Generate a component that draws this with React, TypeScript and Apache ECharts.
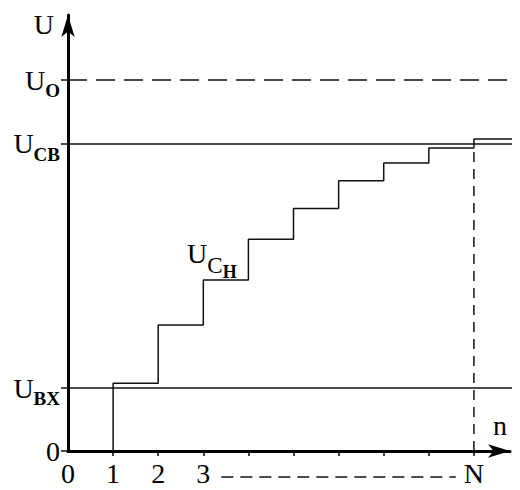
import React, { useEffect, useRef } from "react";
import * as echarts from "echarts";

// ---- data ----
const xTickValues = [1, 2, 3, 4, 5, 6, 7, 8, 9];
const xLabelValues = [0, 1, 2, 3, 9];
const xLabelTexts: Record<number, string> = { 0: "0", 1: "1", 2: "2", 3: "3", 9: "N" };
const stepStarts = [1, 2, 3, 4, 5, 6, 7, 8, 9];
const stepLevels = [0.221, 0.41, 0.557, 0.69, 0.79, 0.88, 0.938, 0.987, 1.016];
const stepEnd = 9.95;
const levelNames = ["0", "BX", "CB", "O"];
const levelValues = [0, 0.205, 1.0, 1.208];
const levelLineEnds = [0, 9.91, 9.98, 9.98];
const nIndex = 9;
const xMax = 9.8;
const yMax = 1.42;
const labelUCH = [3.19, 0.642];
const bottomDash = [3.4, 8.6];

const FONT = "'Liberation Serif', 'DejaVu Serif', serif";

export default function App() {
  const ref = useRef<HTMLDivElement>(null);
  useEffect(() => {
    const el = ref.current!;
    const chart = echarts.init(el, undefined, { renderer: "svg" });

    const stairs: number[][] = [[stepStarts[0], 0]];
    stepStarts.forEach((x, i) => {
      const next = i + 1 < stepStarts.length ? stepStarts[i + 1] : stepEnd;
      stairs.push([x, stepLevels[i]]);
      stairs.push([next, stepLevels[i]]);
    });

    const lineSeries = (data: number[][], dash?: number[]) => ({
      type: "line",
      data,
      symbol: "none",
      clip: false,
      silent: true,
      lineStyle: { color: "#111", width: 1.5, type: dash ? dash : "solid" },
    });

    const option: any = {
      animation: false,
      backgroundColor: "#fff",
      grid: { left: 68, right: 10, top: 15, bottom: 39 },
      xAxis: {
        type: "value",
        min: 0,
        max: xMax,
        name: "n",
        nameLocation: "end",
        nameGap: -10,
        nameTextStyle: {
          fontFamily: FONT,
          fontSize: 28,
          color: "#000",
          align: "center",
          verticalAlign: "bottom",
          padding: [0, 0, 12, 0],
        },
        axisLine: {
          lineStyle: { color: "#000", width: 3 },
          symbol: ["none", "arrow"],
          symbolSize: [10, 22],
        },
        axisTick: { show: true, customValues: xTickValues, length: 5, lineStyle: { color: "#000", width: 1.5 } },
        axisLabel: {
          customValues: xLabelValues,
          formatter: (v: number) => xLabelTexts[Math.round(v)] ?? "",
          fontFamily: FONT,
          fontSize: 28,
          color: "#000",
          margin: 8,
        },
        splitLine: { show: false },
      },
      yAxis: {
        type: "value",
        min: 0,
        max: yMax,
        name: "U",
        nameLocation: "end",
        nameGap: -9,
        nameTextStyle: {
          fontFamily: FONT,
          fontSize: 28,
          color: "#000",
          align: "right",
          verticalAlign: "middle",
          padding: [0, 14, 0, 0],
        },
        axisLine: {
          show: true,
          lineStyle: { color: "#000", width: 3 },
          symbol: ["none", "arrow"],
          symbolSize: [10, 22],
        },
        axisTick: { show: true, customValues: levelValues, length: 7, lineStyle: { color: "#111", width: 1.5 } },
        axisLabel: {
          customValues: levelValues,
          margin: 8,
          formatter: (v: number) => {
            const i = levelValues.findIndex((l) => Math.abs(l - v) < 1e-6);
            if (i < 0) return "";
            const nm = levelNames[i];
            return nm === "0" ? "{u|0}" : `{u|U}{s|${nm}}`;
          },
          rich: {
            u: { fontFamily: FONT, fontSize: 28, lineHeight: 28, color: "#000", verticalAlign: "top" },
            s: {
              fontFamily: FONT,
              fontSize: 19,
              fontWeight: "bold",
              lineHeight: 19,
              color: "#000",
              verticalAlign: "top",
              padding: [15, 0, 0, 0],
            },
          },
        },
        splitLine: { show: false },
      },
      series: [
        {
          ...lineSeries(stairs),
          markPoint: {
            symbol: "circle",
            symbolSize: 1,
            itemStyle: { color: "rgba(0,0,0,0)" },
            label: {
              show: true,
              position: "inside",
              formatter: "{u|U}{c|C}{h|H}",
              rich: {
                u: { fontFamily: FONT, fontSize: 28, lineHeight: 28, color: "#000", verticalAlign: "top" },
                c: { fontFamily: FONT, fontSize: 23, lineHeight: 23, color: "#000", verticalAlign: "top", padding: [14, 0, 0, 0] },
                h: {
                  fontFamily: FONT,
                  fontSize: 18,
                  fontWeight: "bold",
                  lineHeight: 18,
                  color: "#000",
                  verticalAlign: "top",
                  padding: [23, 0, 0, 0],
                },
              },
            },
            data: [{ coord: labelUCH }],
          },
        },
        lineSeries([[0, levelValues[1]], [levelLineEnds[1], levelValues[1]]]),
        lineSeries([[0, levelValues[2]], [levelLineEnds[2], levelValues[2]]]),
        lineSeries([[0, levelValues[3]], [levelLineEnds[3], levelValues[3]]], [19, 9]),
        lineSeries([[nIndex, 0], [nIndex, stepLevels[stepLevels.length - 2]]], [10, 7]),
      ],
    };
    chart.setOption(option);

    const y0 = chart.convertToPixel({ yAxisIndex: 0 }, 0) as number;
    const xa = chart.convertToPixel({ xAxisIndex: 0 }, bottomDash[0]) as number;
    const xb = chart.convertToPixel({ xAxisIndex: 0 }, bottomDash[1]) as number;
    chart.setOption({
      graphic: [
        {
          type: "line",
          silent: true,
          shape: { x1: xa, y1: y0 + 26, x2: xb, y2: y0 + 26 },
          style: { stroke: "#111", lineWidth: 1.5, lineDash: [12, 7] },
        },
      ],
    });

    return () => chart.dispose();
  }, []);
  return (
    <div
      ref={ref}
      style={{ position: "absolute", left: 0, top: 0, width: 520, height: 490, background: "#fff" }}
    />
  );
}
